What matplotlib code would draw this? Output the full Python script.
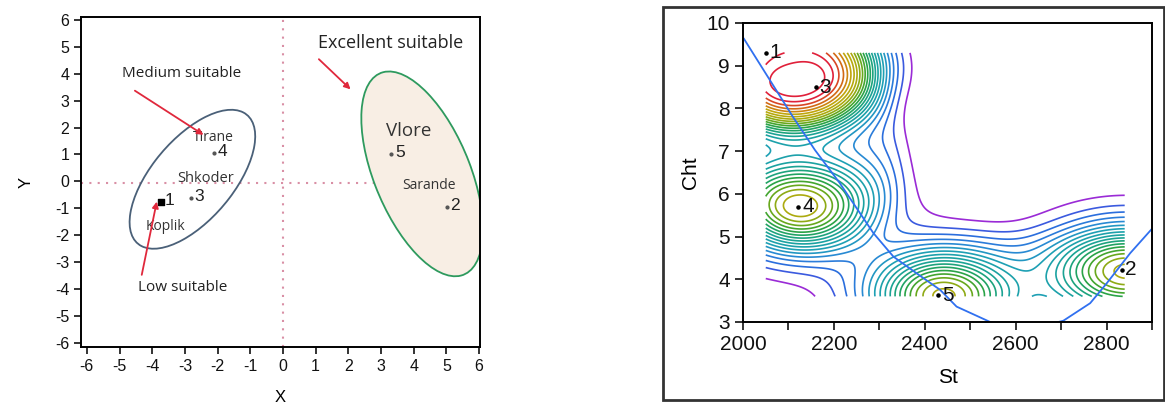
import numpy as np
import matplotlib.pyplot as plt
from matplotlib.patches import Ellipse, Rectangle
from matplotlib.colors import LinearSegmentedColormap

plt.rcParams['font.family'] = ['Liberation Sans', 'DejaVu Sans']
plt.rcParams['axes.unicode_minus'] = False

# ---- left panel: site scores on the two axes ----
site_ids = ["1", "2", "3", "4", "5"]
score_x = [-3.74, 5.01, -2.82, -2.12, 3.32]
score_y = [-0.75, -0.96, -0.62, 1.05, 1.01]

town_names = ["Tirane", "Shkoder", "Koplik", "Vlore", "Sarande"]
town_x = [-2.13, -2.38, -3.61, 3.86, 4.48]
town_y = [1.62, 0.09, -1.68, 1.88, -0.16]
town_size = [10, 10.5, 10, 13.5, 10]

class_names = ["Medium suitable", "Excellent suitable", "Low suitable"]
class_x = [-3.09, 3.30, -3.06]
class_y = [4.02, 5.16, -3.93]
class_size = [11, 13, 11]
arrow_from_x = [-4.53, 1.10, -4.32]
arrow_from_y = [3.37, 4.54, -3.47]
arrow_to_x = [-2.43, 2.07, -3.86]
arrow_to_y = [1.73, 3.42, -0.75]

# groups: centre, width, height, angle
group_cx = [-2.77, 4.26]
group_cy = [0.08, 0.28]
group_w = [5.86, 7.92]
group_h = [2.66, 3.0]
group_ang = [57.9, 107.5]

# ---- right panel: St vs Cht ----
st_vals = [2050, 2833, 2160, 2122, 2430]
cht_vals = [9.30, 4.22, 8.49, 5.70, 3.63]

# surface bumps
# (St, Cht, height, spread St, spread Cht, shape power)
bump_st = [2110, 2150, 2125, 2440, 2845, 2650]
bump_cht = [8.95, 7.0, 5.70, 3.60, 4.20, 3.9]
bump_h = [22.5, 3, 15, 16, 16, 1.5]
bump_sst = [155, 180, 110, 108, 118, 350]
bump_scht = [1.2, 2.0, 0.75, 0.75, 0.75, 1.0]
bump_pow = [3.5, 6, 2, 2, 2, 4]

curve_st = [2002, 2110, 2158, 2213, 2287, 2331, 2382, 2434, 2470, 2544, 2620,
            2705, 2764, 2800, 2852, 2899]
curve_cht = [9.63, 7.80, 7.03, 6.25, 5.08, 4.53, 4.14, 3.75, 3.36, 3.00, 2.80,
             3.03, 3.44, 3.90, 4.61, 5.17]

fig = plt.figure(figsize=(11.65, 4.03), dpi=100)

# left
ax = fig.add_axes([0.0695, 0.139, 0.3425, 0.819])
for cx, cy, w, h, a, ec, fc in zip(group_cx, group_cy, group_w, group_h, group_ang,
                                   ['#4a6078', '#2e9a5e'], ['none', '#f8eee4']):
    ax.add_patch(Ellipse((cx, cy), w, h, angle=a, ec=ec, fc=fc, lw=1.3, zorder=1))
ax.axvline(0, color='#d98fa5', ls=(0, (1, 3)), lw=1.5, zorder=0)
ax.axhline(-0.05, color='#d98fa5', ls=(0, (1, 3)), lw=1.5, zorder=0)

ax.scatter(score_x[1:], score_y[1:], s=4, c='#555555', zorder=3)
ax.scatter(score_x[:1], score_y[:1], s=22, c='black', marker='s', zorder=3)
for sid, x, y in zip(site_ids, score_x, score_y):
    ax.text(x + 0.12, y + 0.05, sid, fontsize=12.5, va='center', ha='left', color='#222222')

for name, x, y, fs in zip(town_names, town_x, town_y, town_size):
    ax.text(x, y, name, fontsize=fs, ha='center', va='center', color='#333333',
            family=['Open Sans', 'DejaVu Sans'])

for name, x, y, fs, x0, y0, x1, y1 in zip(class_names, class_x, class_y, class_size,
                                          arrow_from_x, arrow_from_y, arrow_to_x, arrow_to_y):
    ax.text(x, y, name, fontsize=fs, ha='center', va='center', color='#222222',
            family=['Open Sans', 'DejaVu Sans'])
    ax.annotate('', xy=(x1, y1), xytext=(x0, y0),
                arrowprops=dict(arrowstyle='-|>', color='#e0283c', lw=1.3,
                                mutation_scale=9, shrinkA=0, shrinkB=0))

ax.set_xlim(-6.18, 6.03)
ax.set_ylim(-6.15, 6.11)
ax.set_xticks(range(-6, 7))
ax.set_yticks(range(-6, 7))
ax.tick_params(direction='out', length=5, width=1.2, labelsize=11.5, colors='#111111')
ax.tick_params(axis='x', pad=4)
ax.set_xlabel('X', fontsize=12, labelpad=11)
ax.set_ylabel('Y', fontsize=12, labelpad=15)
for s in ax.spines.values():
    s.set_linewidth(1.4)

# right
ax2 = fig.add_axes([0.6378, 0.201, 0.351, 0.742])
gs, gc = np.meshgrid(np.linspace(min(st_vals), 2840, 240),
                     np.linspace(min(cht_vals) - 0.03, max(cht_vals), 240))
dens = np.zeros_like(gs)
for b0, c0, h, ss, sc, p in zip(bump_st, bump_cht, bump_h, bump_sst, bump_scht, bump_pow):
    r2 = ((gs - b0) / ss) ** 2 + ((gc - c0) / sc) ** 2
    dens += h * np.exp(-0.5 * r2 ** (p / 2))

cmap = LinearSegmentedColormap.from_list(
    'cont', [(0.0, '#9a2bd6'), (0.05, '#2c62e0'), (0.16, '#2a86d8'), (0.24, '#1f9fb8'),
             (0.38, '#1aa39a'), (0.47, '#1fa36a'), (0.54, '#2ea33a'), (0.61, '#6aa81c'),
             (0.68, '#a8ab10'), (0.78, '#bfa80c'), (0.84, '#cf7a12'), (0.90, '#d45a1a'),
             (0.94, '#e0203a'), (1.0, '#e0203a')])
levels = np.arange(1.0, dens.max(), 1.0)
ax2.contour(gs, gc, dens, levels=levels, cmap=cmap, linewidths=1.2)

ax2.plot(curve_st, curve_cht, color='#3070f0', lw=1.3)
ax2.scatter(st_vals, cht_vals, s=5, c='black', zorder=4)
for sid, x, y in zip(site_ids, st_vals, cht_vals):
    ax2.text(x + 8, y, sid, fontsize=15, va='center', ha='left', color='#111111')

ax2.set_xlim(2000, 2900)
ax2.set_ylim(3, 10)
ax2.set_xticks(range(2000, 2901, 100))
ax2.set_xticklabels([str(v) if v % 200 == 0 else '' for v in range(2000, 2901, 100)])
ax2.set_yticks(range(3, 11))
ax2.tick_params(direction='out', length=6, width=1.2, labelsize=15, colors='#111111')
ax2.set_xlabel('St', fontsize=15, labelpad=10)
ax2.set_ylabel('Cht', fontsize=15, labelpad=5)
for s in ax2.spines.values():
    s.set_linewidth(1.4)

fig.patches.append(Rectangle((0.5695, 0.008), 0.4295, 0.975, transform=fig.transFigure,
                             fill=False, ec='#333333', lw=2))

fig.savefig('out.png', dpi=100)
